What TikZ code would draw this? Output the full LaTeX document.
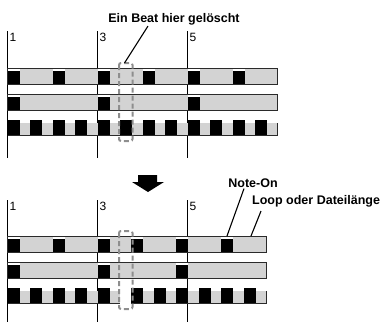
\documentclass[tikz,border=0pt]{standalone}
\usepackage{fontspec}
\setmainfont{Liberation Sans}
\usetikzlibrary{positioning}
\definecolor{clLane}{HTML}{D3D3D3}
\definecolor{clCut}{HTML}{8E8E8E}
\definecolor{clRim}{HTML}{2A2A2A}
\tikzset{
  barline/.style={draw=black, line width=0.8pt},
  barnum/.style={anchor=north west, inner sep=0pt, font=\fontsize{12}{13}\selectfont},
  lane/.style={fill=clLane},
  hit/.style={fill=black},
  rim/.style={draw=clRim, line width=0.9pt},
  cutbox/.style={draw=clCut, line width=2pt, rounded corners=2pt, dash pattern=on 5pt off 3pt},
  callout/.style={font=\fontsize{12.5}{14}\selectfont\bfseries, inner sep=1pt},
  pointer/.style={draw=black, line width=1.1pt},
}
% one lane with a white notch above each hit
\newcommand{\hitrow}[3]{%
  \fill[lane] (7.5,#1) rectangle (#2,#1+16);
  \foreach \x in {#3} {
    \fill[white] (\x,#1) rectangle (\x+12,#1+2.5);
    \fill[hit] (\x,#1+2.5) rectangle (\x+12,#1+16);
  }
  \draw[rim] (7.5,#1) rectangle (#2,#1+16);
}
% eighth-note lane: hits full height, grey set lower
\newcommand{\eighthrow}[3]{%
  \fill[lane] (7.5,#1+2.5) rectangle (#2,#1+15.5);
  \foreach \x in {#3} \fill[hit] (\x,#1) rectangle (\x+12,#1+15.5);
  \draw[rim] (7.5,#1+15.5) -- (#2,#1+15.5) -- (#2,#1+2.5);
}

\begin{document}
\begin{tikzpicture}[x=1pt, y=-1pt]
  \useasboundingbox (0,0) rectangle (386,324);
  % before
  \foreach \x/\n in {7.5/1, 97.5/3, 187.5/5} {
    \draw[barline] (\x,31) -- (\x,158);
    \node[barnum] (up\n) at (\x+2,33) {\n};
  }
  \hitrow{68}{277.5}{7.5,52.5,97.5,142.5,187.5,232.5}
  \hitrow{94}{277.5}{7.5,97.5,187.5}
  \eighthrow{120}{277.5}{7.5,30,...,255}
  \draw[cutbox] (119,63) rectangle (132.5,141);
  \node[callout] (cutlabel) at (174,19) {Ein Beat hier gelöscht};
  \coordinate (cuttip) at (124.5,63);
  \draw[pointer] ([xshift=-26pt]cutlabel.south) -- (cuttip);

  % arrow
  \fill (138,175) -- (157,175) -- (157,182) -- (164,182) -- (148,192)
        -- (132,182) -- (138,182) -- cycle;

  % after
  \foreach \x/\n/\w in {7.5/1/0.8, 97.5/3/0.8, 187.5/5/1.8} {
    \draw[barline, line width=\w pt] (\x,200) -- (\x,322);
    \node[barnum] (down\n) at (\x+2,202) {\n};
  }
  \hitrow{236}{266.25}{7.5,52.5,97.5,131.25,176.25,221.25}
  \hitrow{262}{266.25}{7.5,97.5,176.25}
  \eighthrow{288}{266.25}{7.5,30,52.5,75,97.5,131.25,153.75,176.25,198.75,221.25,243.75}
  \fill[white] (120,287) rectangle (131.25,304.5);
  \draw[cutbox] (119,231) rectangle (132.5,309);
  \node[callout] (noteon) at (253,183) {Note-On};
  \node[callout, anchor=west] (looplen) at (251,201) {Loop oder Dateilänge};
  \coordinate (notetip) at (227,236);
  \coordinate (looptip) at (251,236);
  \draw[pointer] ([xshift=-9pt]noteon.south) -- (notetip);
  \draw[pointer] ([xshift=10pt, yshift=-3pt]looplen.south west) -- (looptip);
\end{tikzpicture}
\end{document}
